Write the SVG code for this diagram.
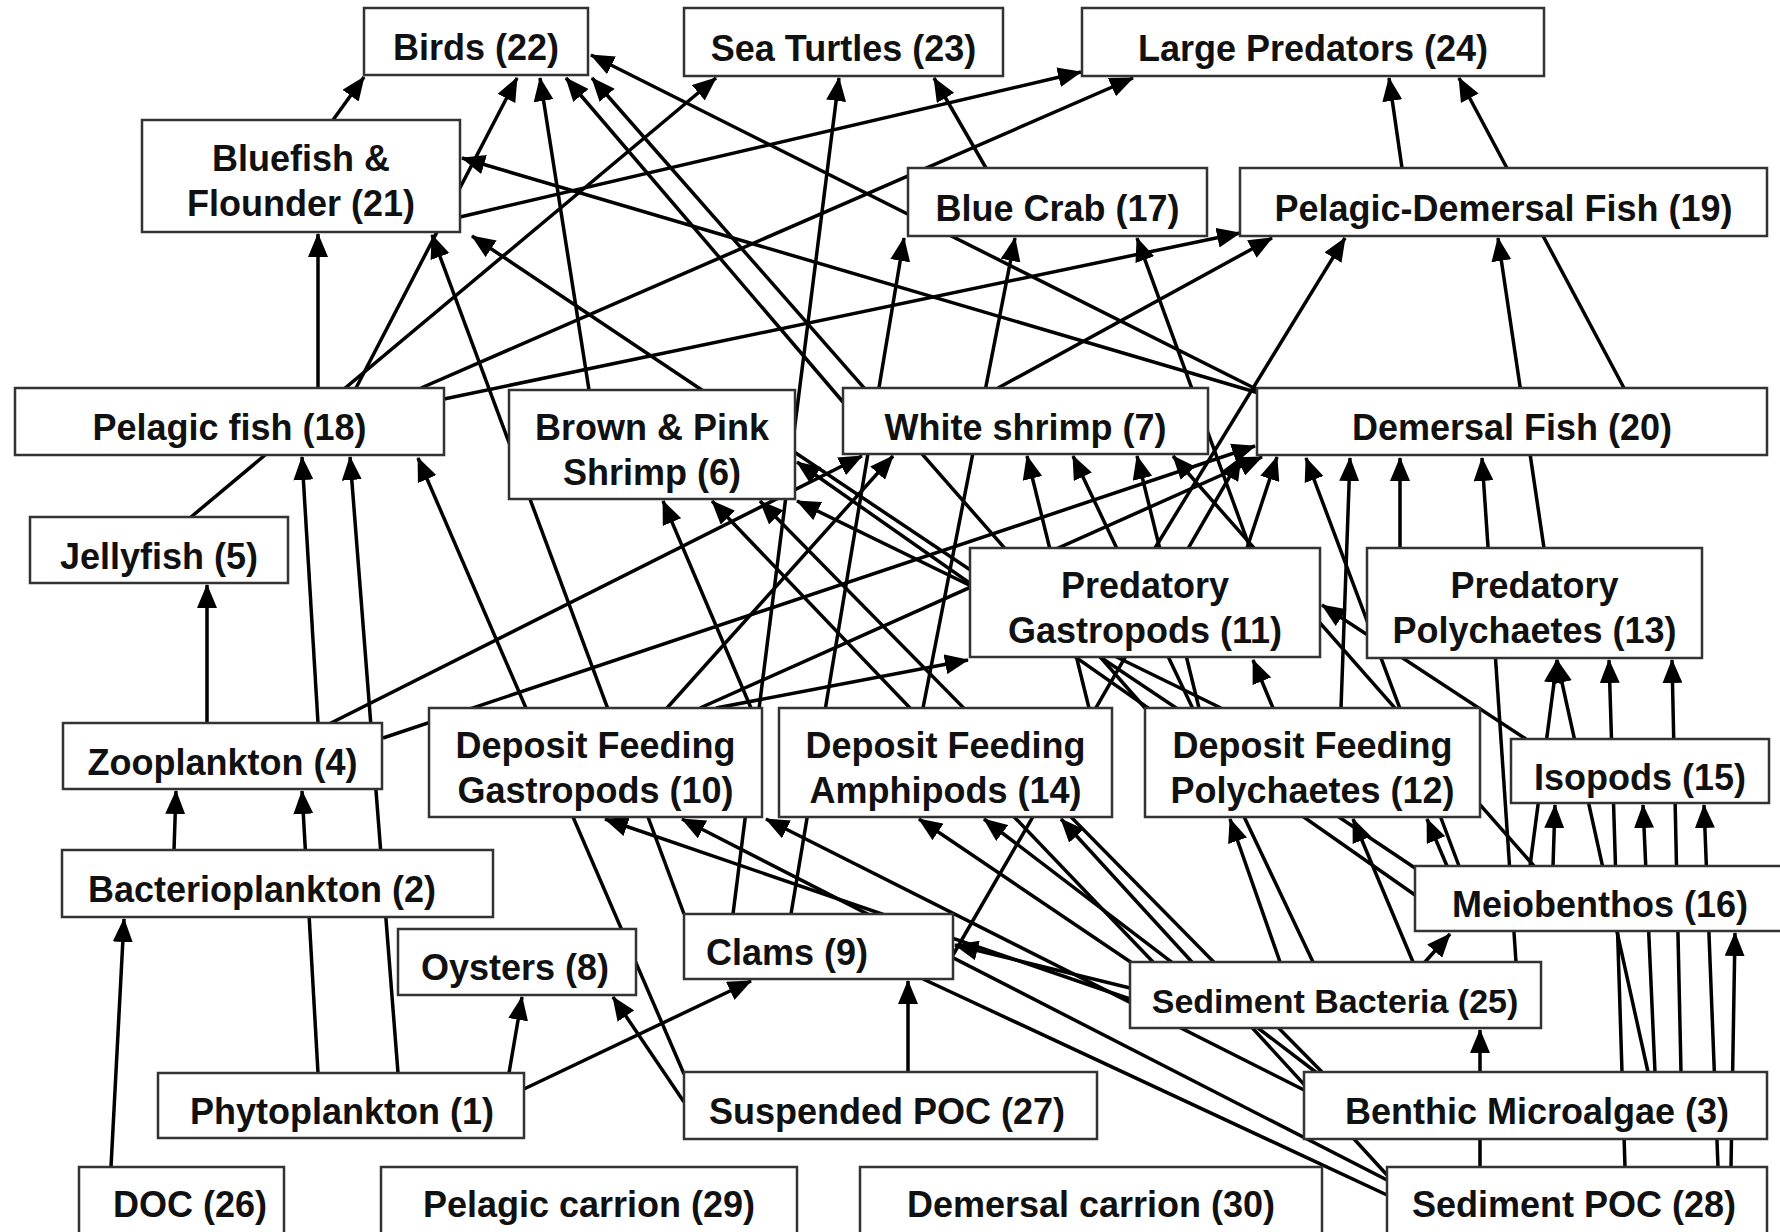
<svg xmlns="http://www.w3.org/2000/svg" width="1780" height="1232" viewBox="0 0 1780 1232">
<style>
.n rect{fill:#fff;stroke:#333;stroke-width:2.5}
.n text{font-family:"Liberation Sans",Arial,sans-serif;font-weight:bold;font-size:36px;text-anchor:middle;fill:#111}
.e line{stroke:#000;stroke-width:3.5;marker-end:url(#a)}
.e line.na{marker-end:none}
</style>
<defs>
<marker id="a" markerWidth="24" markerHeight="20" refX="23" refY="10" orient="auto" markerUnits="userSpaceOnUse"><path d="M0,0 L24,10 L0,20 z" fill="#000"/></marker>
</defs>
<rect width="1780" height="1232" fill="#fff"/>
<g id="connectors" class="e">
<line x1="333" y1="120" x2="364" y2="77"/>
<line x1="356" y1="388" x2="517" y2="78"/>
<line x1="589" y1="390" x2="540" y2="78"/>
<line x1="1145" y1="708" x2="592" y2="78"/>
<line x1="843" y1="402" x2="566" y2="78"/>
<line x1="1262" y1="392" x2="591" y2="55"/>
<line x1="191" y1="517" x2="716" y2="78"/>
<line x1="733" y1="914" x2="839" y2="78"/>
<line x1="986" y1="168" x2="934" y2="78"/>
<line x1="460" y1="217" x2="1081" y2="72"/>
<line x1="421" y1="388" x2="1133" y2="78"/>
<line x1="1402" y1="168" x2="1389" y2="78"/>
<line x1="1624" y1="388" x2="1459" y2="78"/>
<line x1="318" y1="388" x2="318" y2="234"/>
<line x1="684" y1="914" x2="432" y2="235"/>
<line x1="1262" y1="394" x2="462" y2="158"/>
<line x1="1415" y1="868" x2="472" y2="236"/>
<line x1="444" y1="399" x2="1240" y2="233"/>
<line x1="998" y1="388" x2="1272" y2="238"/>
<line x1="1155" y1="548" x2="1345" y2="238"/>
<line x1="1544" y1="548" x2="1498" y2="238"/>
<line x1="791" y1="914" x2="904" y2="238"/>
<line x1="923" y1="708" x2="1015" y2="238"/>
<line x1="1250" y1="548" x2="1137" y2="238"/>
<line x1="318" y1="723" x2="302" y2="457"/>
<line x1="398" y1="1073" x2="350" y2="457"/>
<line x1="684" y1="1074" x2="418" y2="458"/>
<line x1="174" y1="850" x2="176" y2="791"/>
<line x1="318" y1="1073" x2="302" y2="791"/>
<line x1="207" y1="723" x2="207" y2="585"/>
<line x1="111" y1="1167" x2="124" y2="919"/>
<line x1="509" y1="1073" x2="522" y2="997"/>
<line x1="684" y1="1102" x2="613" y2="997"/>
<line x1="524" y1="1089" x2="751" y2="981"/>
<line x1="908" y1="1072" x2="908" y2="981"/>
<line x1="1130" y1="988" x2="955" y2="945"/>
<line class="na" x1="1387" y1="1195" x2="923" y2="979"/>
<line x1="751" y1="708" x2="663" y2="501"/>
<line x1="1153" y1="962" x2="712" y2="501"/>
<line x1="1322" y1="1072" x2="760" y2="501"/>
<line x1="1221" y1="708" x2="797" y2="501"/>
<line x1="1415" y1="895" x2="797" y2="462"/>
<line x1="667" y1="708" x2="893" y2="456"/>
<line x1="1089" y1="708" x2="1027" y2="456"/>
<line x1="1313" y1="962" x2="1073" y2="456"/>
<line x1="1199" y1="708" x2="1137" y2="456"/>
<line x1="1534" y1="866" x2="1173" y2="456"/>
<line x1="329" y1="724" x2="862" y2="456"/>
<line x1="383" y1="738" x2="1255" y2="446"/>
<line x1="953" y1="955" x2="1241" y2="457"/>
<line x1="700" y1="708" x2="1262" y2="457"/>
<line x1="1247" y1="548" x2="1277" y2="457"/>
<line x1="1459" y1="866" x2="1306" y2="458"/>
<line x1="1341" y1="708" x2="1350" y2="458"/>
<line x1="1400" y1="548" x2="1400" y2="458"/>
<line x1="1516" y1="962" x2="1482" y2="458"/>
<line x1="716" y1="708" x2="968" y2="660"/>
<line x1="1526" y1="739" x2="1322" y2="605"/>
<line x1="1273" y1="708" x2="1253" y2="660"/>
<line x1="1648" y1="1072" x2="1557" y2="660"/>
<line x1="1625" y1="1167" x2="1609" y2="660"/>
<line x1="1681" y1="1072" x2="1672" y2="660"/>
<line x1="1530" y1="866" x2="1557" y2="660"/>
<line x1="1553" y1="866" x2="1555" y2="805"/>
<line x1="1655" y1="1072" x2="1643" y2="805"/>
<line x1="1718" y1="1167" x2="1704" y2="805"/>
<line x1="1731" y1="1167" x2="1735" y2="933"/>
<line x1="1425" y1="962" x2="1450" y2="934"/>
<line x1="1480" y1="1167" x2="1480" y2="1030"/>
<line x1="1280" y1="962" x2="1230" y2="819"/>
<line x1="1413" y1="962" x2="1353" y2="819"/>
<line x1="1447" y1="866" x2="1427" y2="819"/>
<line x1="1130" y1="999" x2="605" y2="819"/>
<line x1="1387" y1="1180" x2="682" y2="819"/>
<line x1="1304" y1="1090" x2="766" y2="819"/>
<line x1="1135" y1="965" x2="919" y2="819"/>
<line x1="1317" y1="1073" x2="984" y2="819"/>
<line x1="1387" y1="1175" x2="1061" y2="819"/>
</g>
<g id="n22" class="n"><rect x="364" y="8" width="224" height="67"/><text x="476" y="60">Birds (22)</text></g>
<g id="n23" class="n"><rect x="684" y="8" width="319" height="68"/><text x="843.5" y="61">Sea Turtles (23)</text></g>
<g id="n24" class="n"><rect x="1082" y="8" width="462" height="68"/><text x="1313" y="61">Large Predators (24)</text></g>
<g id="n21" class="n"><rect x="142" y="120" width="318" height="112"/><text x="301" y="171">Bluefish &amp;</text><text x="301" y="216">Flounder (21)</text></g>
<g id="n17" class="n"><rect x="908" y="168" width="299" height="68"/><text x="1057.5" y="221">Blue Crab (17)</text></g>
<g id="n19" class="n"><rect x="1240" y="168" width="527" height="68"/><text x="1503.5" y="221">Pelagic-Demersal Fish (19)</text></g>
<g id="n18" class="n"><rect x="15" y="388" width="429" height="67"/><text x="229.5" y="440">Pelagic fish (18)</text></g>
<g id="n6" class="n"><rect x="509" y="390" width="286" height="109"/><text x="652" y="440">Brown &amp; Pink</text><text x="652" y="485">Shrimp (6)</text></g>
<g id="n7" class="n"><rect x="843" y="388" width="365" height="66"/><text x="1025.5" y="440">White shrimp (7)</text></g>
<g id="n20" class="n"><rect x="1257" y="388" width="510" height="67"/><text x="1512" y="440">Demersal Fish (20)</text></g>
<g id="n5" class="n"><rect x="30" y="517" width="258" height="66"/><text x="159" y="569">Jellyfish (5)</text></g>
<g id="n11" class="n"><rect x="970" y="548" width="350" height="109"/><text x="1145" y="598">Predatory</text><text x="1145" y="643">Gastropods (11)</text></g>
<g id="n13" class="n"><rect x="1367" y="548" width="335" height="110"/><text x="1534.5" y="598">Predatory</text><text x="1534.5" y="643">Polychaetes (13)</text></g>
<g id="n4" class="n"><rect x="63" y="723" width="319" height="66"/><text x="222.5" y="775">Zooplankton (4)</text></g>
<g id="n10" class="n"><rect x="429" y="708" width="333" height="109"/><text x="595.5" y="758">Deposit Feeding</text><text x="595.5" y="803">Gastropods (10)</text></g>
<g id="n14" class="n"><rect x="779" y="708" width="333" height="109"/><text x="945.5" y="758">Deposit Feeding</text><text x="945.5" y="803">Amphipods (14)</text></g>
<g id="n12" class="n"><rect x="1145" y="708" width="335" height="109"/><text x="1312.5" y="758">Deposit Feeding</text><text x="1312.5" y="803">Polychaetes (12)</text></g>
<g id="n15" class="n"><rect x="1511" y="739" width="258" height="64"/><text x="1640" y="790">Isopods (15)</text></g>
<g id="n2" class="n"><rect x="62" y="850" width="431" height="67"/><text x="262" y="902">Bacterioplankton (2)</text></g>
<g id="n16" class="n"><rect x="1415" y="866" width="372" height="65"/><text x="1600" y="917">Meiobenthos (16)</text></g>
<g id="n8" class="n"><rect x="398" y="929" width="238" height="66"/><text x="515" y="980">Oysters (8)</text></g>
<g id="n9" class="n"><rect x="684" y="914" width="269" height="65"/><text x="787" y="965">Clams (9)</text></g>
<g id="n25" class="n"><rect x="1130" y="962" width="411" height="66"/><text x="1335" y="1013" style="font-size:34px">Sediment Bacteria (25)</text></g>
<g id="n1" class="n"><rect x="158" y="1073" width="366" height="65"/><text x="342" y="1124">Phytoplankton (1)</text></g>
<g id="n27" class="n"><rect x="684" y="1072" width="413" height="67"/><text x="887" y="1124">Suspended POC (27)</text></g>
<g id="n3" class="n"><rect x="1304" y="1072" width="463" height="67"/><text x="1537" y="1124">Benthic Microalgae (3)</text></g>
<g id="n26" class="n"><rect x="79" y="1167" width="205" height="80"/><text x="190" y="1217">DOC (26)</text></g>
<g id="n29" class="n"><rect x="381" y="1167" width="416" height="80"/><text x="589" y="1217">Pelagic carrion (29)</text></g>
<g id="n30" class="n"><rect x="860" y="1167" width="462" height="80"/><text x="1091" y="1217">Demersal carrion (30)</text></g>
<g id="n28" class="n"><rect x="1387" y="1167" width="380" height="80"/><text x="1574" y="1217">Sediment POC (28)</text></g>
</svg>
